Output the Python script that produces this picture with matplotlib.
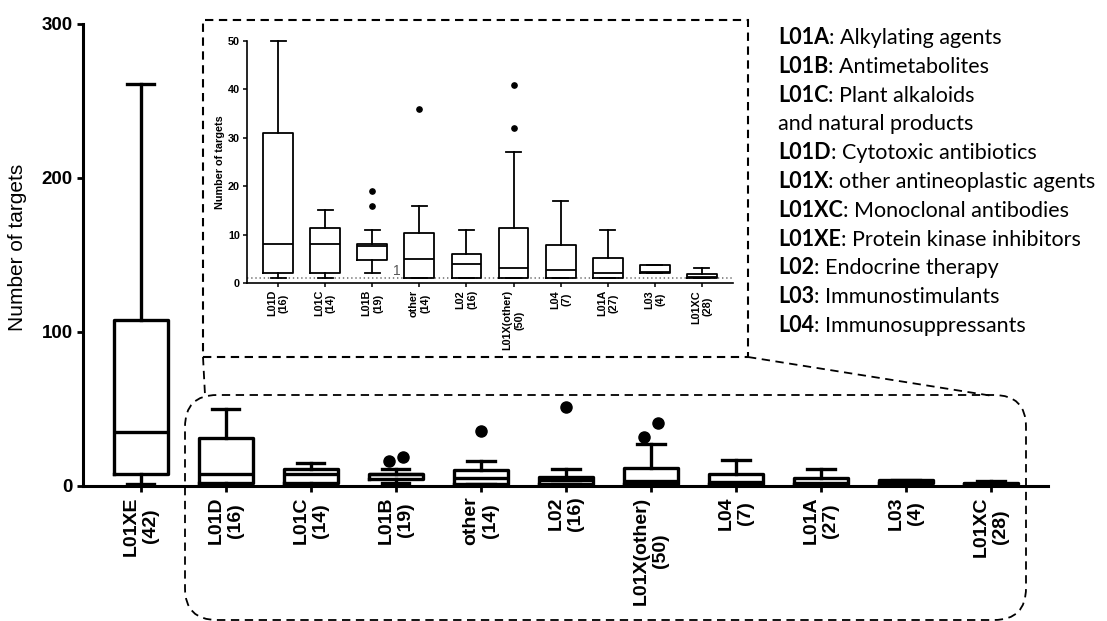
import matplotlib
matplotlib.use('Agg')
import matplotlib.pyplot as plt
import matplotlib.patches as mpatches
import matplotlib.lines as mlines
import numpy as np

plt.rcParams['font.family'] = ['Liberation Sans', 'DejaVu Sans']
plt.rcParams['lines.scale_dashes'] = False

# data
categories = ['L01XE', 'L01D', 'L01C', 'L01B', 'other', 'L02', 'L01X(other)',
              'L04', 'L01A', 'L03', 'L01XC']
counts = [42, 16, 14, 19, 14, 16, 50, 7, 27, 4, 28]
whislo = [1, 1, 1, 2, 1, 1, 1, 1, 1, 2, 1]
q1 = [8, 2, 2, 4.7, 1.1, 1.1, 1.1, 1.1, 1.1, 2, 1]
med = [35, 8, 8, 7.7, 5, 4, 3, 2.6, 2, 2.3, 1.3]
q3 = [108, 31, 11.3, 8, 10.4, 5.9, 11.4, 7.8, 5.1, 3.8, 1.9]
whishi = [261, 50, 15, 11, 16, 11, 27, 17, 11, 3.8, 3]
fliers = [[], [], [], [16, 19], [36], [51], [32, 41], [], [], [], []]

legend_codes = ['L01A', 'L01B', 'L01C', '', 'L01D', 'L01X', 'L01XC', 'L01XE',
                'L02', 'L03', 'L04']
legend_texts = ['Alkylating agents', 'Antimetabolites', 'Plant alkaloids',
                'and natural products', 'Cytotoxic antibiotics',
                'other antineoplastic agents', 'Monoclonal antibodies',
                'Protein kinase inhibitors', 'Endocrine therapy',
                'Immunostimulants', 'Immunosuppressants']

W, H = 1107, 621
fig = plt.figure(figsize=(W / 100, H / 100), dpi=100)


def px_rect(x0, y0, x1, y1):
    # pixel box (top-left origin) -> figure fraction [l, b, w, h]
    return [x0 / W, 1 - y1 / H, (x1 - x0) / W, (y1 - y0) / H]


def make_stats(idx):
    return [dict(label=f'{categories[i]}\n({counts[i]})', whislo=whislo[i], q1=q1[i],
                 med=med[i], q3=q3[i], whishi=whishi[i], fliers=sorted(fliers[i]))
            for i in idx]


# ---- main chart ----
ax = fig.add_axes(px_rect(83, 24, 1048, 486))
pos = np.arange(len(categories))
lw = 2.4
res = ax.bxp(make_stats(range(len(categories))), positions=pos, widths=0.635,
             capwidths=0.32,
             boxprops=dict(color='black', linewidth=lw),
             whiskerprops=dict(color='black', linewidth=lw),
             capprops=dict(color='black', linewidth=lw),
             medianprops=dict(color='black', linewidth=lw),
             flierprops=dict(marker='o', markerfacecolor='black', markeredgecolor='black',
                             markersize=8))
for key in res:
    for art in res[key]:
        art.set_clip_on(False)
# GraphPad spreads overlapping outliers sideways
for p, fl in zip(pos, res['fliers']):
    n = len(fl.get_ydata())
    if n > 1:
        fl.set_xdata(p + np.linspace(-0.085, 0.085, n))

ax.set_xlim(-0.68, 10.67)
ax.set_ylim(0, 300)
ax.set_yticks([0, 100, 200, 300])
ax.spines['top'].set_visible(False)
ax.spines['right'].set_visible(False)
for s in ['left', 'bottom']:
    ax.spines[s].set_linewidth(2.2)
ax.tick_params(axis='both', width=2, length=4.5, direction='out')
ax.tick_params(axis='y', labelsize=13.5, pad=3)
ax.tick_params(axis='x', labelsize=14, pad=3, labelrotation=90)
for t in ax.get_yticklabels() + ax.get_xticklabels():
    t.set_fontweight('bold')
ax.set_ylabel('Number of targets', fontsize=15)
ax.yaxis.set_label_coords(-0.058, 0.517)

# ---- inset ----
ax_in = fig.add_axes(px_rect(247, 41, 733, 283))
pos_in = np.arange(len(categories) - 1)
lw_in = 1.3
res_in = ax_in.bxp(make_stats(range(1, len(categories))), positions=pos_in, widths=0.635,
                   capwidths=0.32,
                   boxprops=dict(color='black', linewidth=lw_in),
                   whiskerprops=dict(color='black', linewidth=lw_in),
                   capprops=dict(color='black', linewidth=lw_in),
                   medianprops=dict(color='black', linewidth=lw_in),
                   flierprops=dict(marker='o', markerfacecolor='black', markeredgecolor='black',
                                   markersize=3.8))
for art in res_in['caps'] + res_in['whiskers']:
    art.set_clip_on(False)
ax_in.axhline(1, linestyle=(0, (1, 2)), color='#777777', linewidth=1.2, zorder=0)
ax_in.text(2.53, 1.6, '1', color='#555555', fontsize=10, ha='center', va='baseline')
ax_in.set_xlim(-0.66, 9.66)
ax_in.set_ylim(0, 50)
ax_in.set_yticks([0, 10, 20, 30, 40, 50])
ax_in.spines['top'].set_visible(False)
ax_in.spines['right'].set_visible(False)
for s in ['left', 'bottom']:
    ax_in.spines[s].set_linewidth(1.2)
ax_in.tick_params(axis='both', width=1.1, length=3, labelsize=7.8, pad=2)
ax_in.tick_params(axis='x', labelrotation=90)
for t in ax_in.get_yticklabels() + ax_in.get_xticklabels():
    t.set_fontweight('bold')
ax_in.set_ylabel('Number of targets', fontsize=7.8, fontweight='bold')
ax_in.yaxis.set_label_coords(-0.045, 0.5)

# ---- dashed call-out frames ----
tr = fig.dpi_scale_trans


def pt(x, y):
    return (x / 100, (H - y) / 100)


dash = (0, (6, 4))
frame = mpatches.Rectangle(pt(203, 357), (748 - 203) / 100, (357 - 20) / 100, transform=tr,
                           fill=False, edgecolor='black', linewidth=1.5, linestyle=dash)
fig.add_artist(frame)
zoom_box = mpatches.FancyBboxPatch(pt(185, 620), (1026 - 185) / 100, (620 - 395) / 100,
                                   boxstyle='round,pad=0,rounding_size=0.32', transform=tr,
                                   fill=False, edgecolor='black', linewidth=1.3, linestyle=dash)
fig.add_artist(zoom_box)
for (xa, ya), (xb, yb) in [((203, 357), (205, 395)), ((748, 357), (993, 396))]:
    (x0, y0), (x1, y1) = pt(xa, ya), pt(xb, yb)
    fig.add_artist(mlines.Line2D([x0, x1], [y0, y1], transform=tr, color='black',
                                 linewidth=1.3, linestyle=dash))

# ---- legend text ----
lx = 778 / W
for i, (code, desc) in enumerate(zip(legend_codes, legend_texts)):
    y = 1 - (44 + i * 28.8) / H
    if code:
        t1 = fig.text(lx, y, code, fontsize=15.5, fontweight='bold', family='Lato',
                      va='baseline', ha='left')
        ax.annotate(': ' + desc, xy=(1, 0), xycoords=t1, fontsize=15.5, family='Lato',
                    va='bottom', ha='left', annotation_clip=False)
    else:
        fig.text(lx, y, desc, fontsize=15.5, family='Lato', va='baseline', ha='left')

fig.savefig('out.png', dpi=100)
